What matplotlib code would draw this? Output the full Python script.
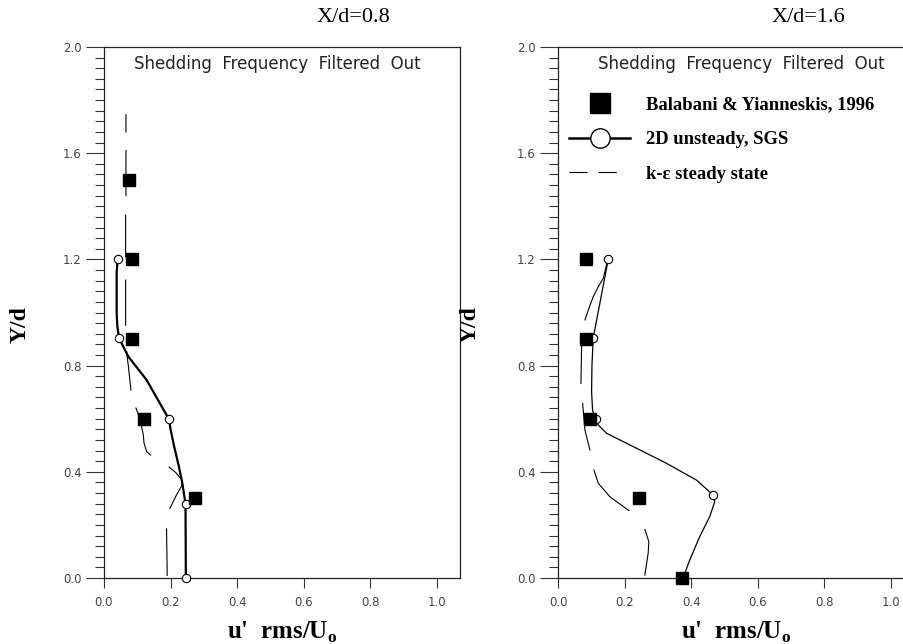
import numpy as np
import matplotlib
matplotlib.use('Agg')
import matplotlib.pyplot as plt
from matplotlib.lines import Line2D
from matplotlib.ticker import MultipleLocator

plt.rcParams['mathtext.fontset'] = 'custom'
plt.rcParams['mathtext.rm'] = 'Liberation Serif:bold'
plt.rcParams['mathtext.bf'] = 'Liberation Serif:bold'
plt.rcParams['lines.scale_dashes'] = False

#----- Data: X/d = 0.8 -----#

exp_u_08 = [0.075, 0.085, 0.085, 0.12, 0.275]
exp_y_08 = [1.5, 1.2, 0.9, 0.6, 0.3]

sgs_pts_u_08 = [0.041, 0.045, 0.195, 0.245, 0.246]
sgs_pts_y_08 = [1.2, 0.905, 0.6, 0.28, 0.0]

sgs_u_08 = [0.041, 0.038, 0.038, 0.040, 0.045, 0.048, 0.073, 0.128, 0.188, 0.195,
            0.200, 0.210, 0.225, 0.235, 0.245, 0.246]
sgs_y_08 = [1.2, 1.15, 1.0, 0.95, 0.905, 0.896, 0.834, 0.746, 0.614, 0.6,
            0.56, 0.5, 0.42, 0.36, 0.28, 0.0]

# k-eps curve, nan = gap between dashes
ke_u_08 = [0.066, 0.066, np.nan, 0.066, 0.066, np.nan, 0.065, 0.065, np.nan,
           0.065, 0.065, np.nan, 0.068, 0.073, 0.081, np.nan,
           0.096, 0.108, 0.113, 0.118, 0.120, 0.128, 0.140, np.nan,
           0.196, 0.215, 0.233, 0.235, 0.218, 0.198, np.nan, 0.188, 0.190]
ke_y_08 = [1.745, 1.68, np.nan, 1.61, 1.44, np.nan, 1.367, 1.21, np.nan,
           1.122, 0.952, np.nan, 0.852, 0.80, 0.708, np.nan,
           0.64, 0.60, 0.57, 0.54, 0.51, 0.476, 0.463, np.nan,
           0.417, 0.398, 0.372, 0.35, 0.313, 0.262, np.nan, 0.185, 0.01]

#----- Data: X/d = 1.6 -----#

exp_u_16 = [0.085, 0.084, 0.096, 0.244, 0.372]
exp_y_16 = [1.2, 0.9, 0.6, 0.3, 0.0]

sgs_pts_u_16 = [0.151, 0.106, 0.113, 0.466, 0.376]
sgs_pts_y_16 = [1.2, 0.905, 0.6, 0.313, 0.0]

sgs_u_16 = [0.151, 0.106, 0.102, 0.101, 0.104, 0.113, 0.116, 0.146, 0.226, 0.326,
            0.416, 0.466, 0.471, 0.456, 0.426, 0.396, 0.376]
sgs_y_16 = [1.2, 0.905, 0.8, 0.7, 0.63, 0.6, 0.583, 0.545, 0.495, 0.432,
            0.369, 0.313, 0.287, 0.231, 0.156, 0.068, 0.0]

ke_u_16 = [0.148, 0.136, 0.121, 0.106, 0.091, 0.081, np.nan, 0.071, 0.069, np.nan,
           0.074, 0.081, 0.096, np.nan, 0.108, 0.121, 0.156, 0.213, np.nan,
           0.261, 0.273, 0.271, 0.261]
ke_y_16 = [1.19, 1.129, 1.097, 1.06, 1.009, 0.972, np.nan, 0.877, 0.733, np.nan,
           0.658, 0.557, 0.482, np.nan, 0.407, 0.357, 0.306, 0.254, np.nan,
           0.183, 0.137, 0.093, 0.011]

titles = ['X/d=0.8', 'X/d=1.6']
note = 'Shedding  Frequency  Filtered  Out'
leg_labels = ['Balabani & Yianneskis, 1996', '2D unsteady, SGS', 'k-ε steady state']

#----- Figure -----#

fig = plt.figure(figsize=(9.04, 6.44), dpi=100)
ax_l = fig.add_axes([104/904, 66/644, 356/904, 531/644])
ax_r = fig.add_axes([558/904, 66/644, 356/904, 531/644])

panels = [
    (ax_l, exp_u_08, exp_y_08, sgs_u_08, sgs_y_08, sgs_pts_u_08, sgs_pts_y_08, ke_u_08, ke_y_08, 1.6),
    (ax_r, exp_u_16, exp_y_16, sgs_u_16, sgs_y_16, sgs_pts_u_16, sgs_pts_y_16, ke_u_16, ke_y_16, 0.9),
]

for ax, eu, ey, su, sy, pu, py, ku, ky, lw in panels:
    ax.plot(ku, ky, color='k', lw=0.8, clip_on=False)
    ax.plot(su, sy, color='k', lw=lw, clip_on=False)
    ax.plot(pu, py, 'o', ms=6, mfc='white', mec='k', mew=0.8, clip_on=False, zorder=4)
    ax.plot(eu, ey, 's', ms=9, color='k', clip_on=False, zorder=5)

    ax.set_xlim(0, 1.07)
    ax.set_ylim(0, 2.0)
    ax.xaxis.set_major_locator(MultipleLocator(0.2))
    ax.yaxis.set_major_locator(MultipleLocator(0.4))
    ax.yaxis.set_minor_locator(MultipleLocator(0.04))
    ax.xaxis.set_major_formatter(plt.FormatStrFormatter('%.1f'))
    ax.yaxis.set_major_formatter(plt.FormatStrFormatter('%.1f'))
    ax.tick_params(axis='x', which='major', direction='out', length=7, width=0.8,
                   pad=6, labelsize=8.5, labelcolor='#444444', color='#333333')
    ax.tick_params(axis='y', which='major', direction='out', length=13, width=0.8,
                   pad=3, labelsize=8.5, labelcolor='#444444', color='#333333')
    ax.tick_params(axis='y', which='minor', direction='out', length=6.5, width=0.8,
                   color='#333333')
    for s in ax.spines.values():
        s.set_linewidth(0.9)
        s.set_color('#222222')

    ax.text(0.52 if ax is ax_l else 0.55, 1.935, note, ha='center', va='center',
            fontsize=12, color='#222222', family='DejaVu Sans')
    ax.set_xlabel("u'  rms/U$_{\\mathbf{o}}$", family='Liberation Serif',
                  fontweight='bold', fontsize=18, labelpad=8)

fig.text(20/904, 1 - 325/644, 'Y/d', rotation=90, ha='center', va='center',
         family='Liberation Serif', fontweight='bold', fontsize=17)
fig.text(470/904, 1 - 325/644, 'Y/d', rotation=90, ha='center', va='center',
         family='Liberation Serif', fontweight='bold', fontsize=17)
fig.text(353/904, 1 - 17/644, titles[0], ha='center', va='center',
         family='Liberation Serif', fontsize=16)
fig.text(808/904, 1 - 17/644, titles[1], ha='center', va='center',
         family='Liberation Serif', fontsize=16)

#----- Legend -----#

handles = [
    Line2D([], [], ls='none', marker='s', ms=15, color='k'),
    Line2D([], [], color='k', lw=1.8, marker='o', ms=14, mfc='white', mec='k', mew=1.0),
    Line2D([], [], color='k', lw=0.8, linestyle=(0, (13, 8, 13, 40))),
]
ax_r.legend(handles, leg_labels, loc='upper left', bbox_to_anchor=(0.031, 0.907),
            frameon=False, borderpad=0, borderaxespad=0, handlelength=3.3,
            handletextpad=0.85, labelspacing=0.95,
            prop={'family': 'Liberation Serif', 'weight': 'bold', 'size': 13.4})

fig.savefig('out.png', dpi=100)
